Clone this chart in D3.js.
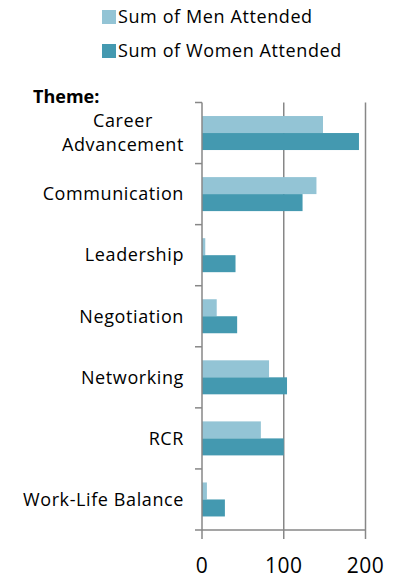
<!DOCTYPE html>
<html lang="en">
  <head>
    <meta charset="UTF-8" />
    <title>Attendance by Theme</title>
    <script src="https://cdn.jsdelivr.net/npm/d3@7/dist/d3.min.js"></script>
    <style>
      body { margin: 0; background: #fff; }
      text { font-family: 'Open Sans', sans-serif; fill: #000; }
    </style>
  </head>
  <body>
    <svg width="400" height="578"></svg>

    <script>
      // data
      const themes = ['Career Advancement', 'Communication', 'Leadership', 'Negotiation', 'Networking', 'RCR', 'Work-Life Balance']
      const themeLines = [['Career', 'Advancement'], ['Communication'], ['Leadership'], ['Negotiation'], ['Networking'], ['RCR'], ['Work-Life Balance']]
      const menAttended = [148, 140, 4, 18, 82, 72, 6]
      const womenAttended = [192, 123, 41, 43, 104, 100, 28]
      const seriesNames = ['Sum of Men Attended', 'Sum of Women Attended']
      const xTicks = [0, 100, 200]

      const colors = ['#93c4d5', '#4499b0']
      const gridColor = '#878787'

      const svg = d3.select('svg')
      const plotLeft = 202, plotRight = 365.5, plotTop = 102.5, plotBottom = 530

      const x = d3.scaleLinear().domain([0, 200]).range([plotLeft, plotRight])
      const y = d3.scaleBand().domain(themes).range([plotTop, plotBottom])
      const sub = d3.scaleBand().domain([0, 1]).range([0, 34])
      const barOffset = (y.bandwidth() - 34) / 2

      // gridlines
      svg.append('g')
        .selectAll('line')
        .data(xTicks.slice(1))
        .join('line')
        .attr('x1', d => x(d)).attr('x2', d => x(d))
        .attr('y1', plotTop).attr('y2', plotBottom)
        .attr('stroke', gridColor).attr('stroke-width', 1.5)

      // bars
      const rows = themes.map((t, i) => ({ theme: t, vals: [menAttended[i], womenAttended[i]] }))
      svg.append('g')
        .selectAll('g')
        .data(rows)
        .join('g')
        .attr('transform', d => `translate(0,${y(d.theme) + barOffset})`)
        .selectAll('rect')
        .data(d => d.vals)
        .join('rect')
        .attr('x', x(0))
        .attr('y', (d, i) => sub(i))
        .attr('width', d => x(d) - x(0))
        .attr('height', sub.bandwidth())
        .attr('fill', (d, i) => colors[i])

      // y axis
      const yAxis = svg.append('g')
        .attr('transform', `translate(${plotLeft},0)`)
      yAxis.append('line')
        .attr('y1', plotTop).attr('y2', plotBottom)
        .attr('stroke', gridColor).attr('stroke-width', 1.5)
      const bounds = [plotTop].concat(themes.map(t => y(t) + y.bandwidth()))
      yAxis.selectAll('.tk')
        .data(bounds)
        .join('line')
        .attr('class', 'tk')
        .attr('x1', -7).attr('x2', 0)
        .attr('y1', d => d).attr('y2', d => d)
        .attr('stroke', gridColor).attr('stroke-width', 1.5)

      // x axis
      const xAxis = svg.append('g')
      xAxis.append('line')
        .attr('x1', plotLeft).attr('x2', plotRight)
        .attr('y1', plotBottom).attr('y2', plotBottom)
        .attr('stroke', gridColor).attr('stroke-width', 1.5)
      xAxis.selectAll('.tk')
        .data(xTicks)
        .join('line')
        .attr('class', 'tk')
        .attr('x1', d => x(d)).attr('x2', d => x(d))
        .attr('y1', plotBottom).attr('y2', plotBottom + 9)
        .attr('stroke', gridColor).attr('stroke-width', 1.5)
      xAxis.selectAll('text')
        .data(xTicks)
        .join('text')
        .attr('x', d => x(d))
        .attr('y', 566)
        .attr('dy', '0.35em')
        .attr('text-anchor', 'middle')
        .style('font-size', '21px')
        .style('letter-spacing', '0.5px')
        .text(d => d)

      // category labels (multi-line labels are centred on their widest line, block right-aligned)
      const labelRight = 184
      const labels = svg.append('g')
        .selectAll('text')
        .data(themes)
        .join('text')
        .attr('text-anchor', 'end')
        .style('font-size', '18px')
        .style('letter-spacing', '0.6px')
        .attr('transform', d => `translate(${labelRight},${y(d) + y.bandwidth() / 2})`)
      labels.each(function (d, i) {
        const lines = themeLines[i]
        const lh = 24
        const t = d3.select(this)
        const spans = t.selectAll('tspan')
          .data(lines)
          .join('tspan')
          .attr('x', 0)
          .attr('y', (l, j) => (j - (lines.length - 1) / 2) * lh)
          .attr('dy', '0.35em')
          .text(l => l)
        if (lines.length > 1) {
          const w = d3.max(spans.nodes(), n => n.getComputedTextLength())
          t.attr('text-anchor', 'middle')
          spans.attr('x', -w / 2)
        }
      })

      // axis title
      svg.append('text')
        .attr('x', 33).attr('y', 97)
        .attr('dy', '0.35em')
        .style('font-size', '18px')
        .style('font-weight', 'bold')
        .text('Theme:')

      // legend
      const legend = svg.append('g')
        .selectAll('g')
        .data(seriesNames)
        .join('g')
        .attr('transform', (d, i) => `translate(102,${10 + i * 34})`)
      legend.append('rect')
        .attr('width', 14).attr('height', 14)
        .attr('fill', (d, i) => colors[i])
      legend.append('text')
        .attr('x', 16).attr('y', 7)
        .attr('dy', '0.35em')
        .style('font-size', '18px')
        .style('letter-spacing', '0.6px')
        .text(d => d)
    </script>
  </body>
</html>
